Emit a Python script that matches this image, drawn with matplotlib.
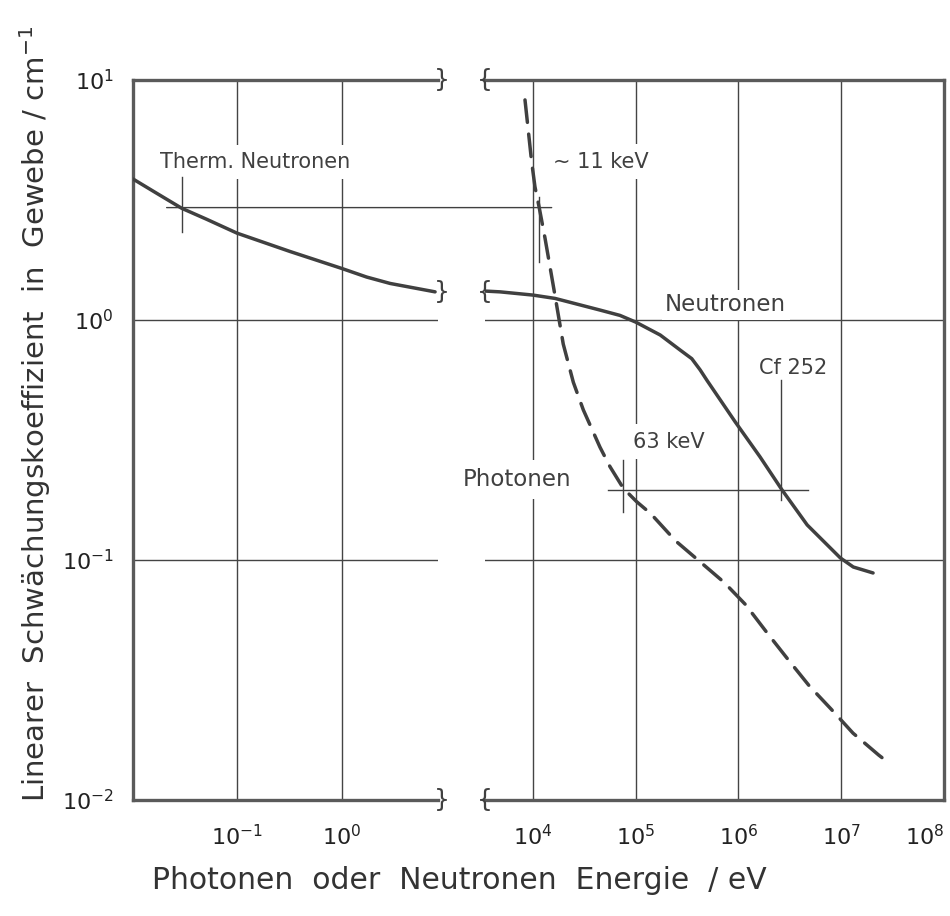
import matplotlib
matplotlib.use("Agg")
import matplotlib.pyplot as plt
from matplotlib.patches import ConnectionPatch
from matplotlib.ticker import NullLocator

# thermal neutrons, left part of the energy axis (eV, 1/cm)
e_therm = [0.0101, 0.0171, 0.0296, 0.051, 0.1, 0.32, 1.0, 1.73, 2.9, 7.8]
mu_therm = [3.87, 3.37, 2.92, 2.63, 2.30, 1.93, 1.64, 1.51, 1.42, 1.31]

# fast neutrons
e_fast = [3.41e3, 4.78e3, 1.0e4, 1.64e4, 4.49e4, 7.03e4, 1.0e5, 1.73e5, 2.70e5,
          3.51e5, 4.23e5, 4.94e5, 9.3e5, 1.62e6, 2.65e6, 4.66e6, 9.8e6, 1.31e7, 2.04e7]
mu_fast = [1.32, 1.31, 1.27, 1.23, 1.10, 1.045, 0.98, 0.866, 0.75,
           0.69, 0.62, 0.56, 0.376, 0.269, 0.196, 0.140, 0.102, 0.0935, 0.0883]

# photons
e_phot = [8.36e3, 9.7e3, 1.045e4, 1.15e4, 1.31e4, 1.64e4, 1.97e4, 2.47e4, 3.09e4,
          4.49e4, 5.61e4, 7.57e4, 1.02e5, 1.40e5, 2.45e5, 4.30e5, 7.24e5, 1.17e6,
          1.92e6, 3.14e6, 4.88e6, 7.98e6, 1.30e7, 2.31e7, 2.77e7]
mu_phot = [8.26, 4.57, 3.59, 2.94, 2.19, 1.26, 0.794, 0.550, 0.422,
           0.295, 0.245, 0.199, 0.175, 0.156, 0.120, 0.0977, 0.0807, 0.0652,
           0.0494, 0.0378, 0.0299, 0.0239, 0.0190, 0.0154, 0.0145]

# marks
e_thermal_mark, mu_thermal_mark = 0.0296, 2.94
e_11kev = 1.15e4
e_63kev, mu_63kev = 7.57e4, 0.195
e_cf252 = 2.58e6

xticks_left = [0.1, 1.0]
xticks_right = [1e4, 1e5, 1e6, 1e7, 1e8]
yticks = [0.01, 0.1, 1.0, 10.0]

ink = "#404040"
grid_col = "#444444"
fs_ann = 15

fig = plt.figure(figsize=(9.5, 9.16), dpi=100)
ax1 = fig.add_axes([133 / 950, 116 / 916, 305 / 950, 720 / 916])
ax2 = fig.add_axes([485 / 950, 116 / 916, 459 / 950, 720 / 916])

for ax in (ax1, ax2):
    ax.set_xscale("log")
    ax.set_yscale("log")
    ax.set_ylim(0.01, 10)
    ax.set_axisbelow(True)
    ax.xaxis.set_minor_locator(NullLocator())
    ax.yaxis.set_minor_locator(NullLocator())
    ax.grid(True, color=grid_col, lw=1.0)
    ax.tick_params(axis="x", length=0, labelsize=16, colors="#222222", pad=17)
    ax.tick_params(axis="y", length=0, labelsize=16, colors="#222222", pad=14)
    for s in ax.spines.values():
        s.set_color("#5a5a5a")
        s.set_linewidth(2.4)

ax1.set_xlim(10 ** -1.995, 10 ** 0.92)
ax2.set_xlim(10 ** 3.533, 1e8)
ax1.set_xticks(xticks_left)
ax2.set_xticks(xticks_right)
ax1.set_yticks(yticks)
ax2.set_yticks(yticks)
ax2.tick_params(labelleft=False)
ax1.spines["right"].set_visible(False)
ax2.spines["left"].set_visible(False)
fig.canvas.draw()
ax2.get_xticklabels()[-1].set_horizontalalignment("right")

# curves
ax1.plot(e_therm, mu_therm, color=ink, lw=2.5, zorder=4, solid_capstyle="round")
ax2.plot(e_fast, mu_fast, color=ink, lw=2.5, zorder=4, solid_capstyle="round",
         solid_joinstyle="round")
ax2.plot(e_phot, mu_phot, color=ink, lw=2.5, zorder=4,
         linestyle=(0, (6.5, 3.4)), dash_capstyle="round")

# break marks at top, at the curve ends and at bottom
for y in (10, mu_therm[-1], 0.01):
    ax1.text(1.012, y, "}", transform=ax1.get_yaxis_transform(),
             ha="center", va="center", fontsize=18, color=ink, zorder=5)
    ax2.text(0.0, y, "{", transform=ax2.get_yaxis_transform(),
             ha="center", va="center", fontsize=18, color=ink, zorder=5)

# thermal neutron mark
ax1.plot([e_thermal_mark, e_thermal_mark], [2.33, 3.95], color=ink, lw=1.0, zorder=4)
con = ConnectionPatch(xyA=(0.0212, mu_thermal_mark), coordsA=ax1.transData,
                      xyB=(1.52e4, mu_thermal_mark), coordsB=ax2.transData,
                      color=ink, lw=1.0, zorder=4)
fig.add_artist(con)

# 11 keV, 63 keV and Cf 252 marks
ax2.plot([e_11kev, e_11kev], [1.75, 3.27], color=ink, lw=1.0, zorder=4)
ax2.plot([e_63kev, e_63kev], [0.159, 0.261], color=ink, lw=1.0, zorder=4)
ax2.plot([5.4e4, 4.8e6], [mu_63kev, mu_63kev], color=ink, lw=1.0, zorder=4)
ax2.plot([e_cf252, e_cf252], [0.178, 0.562], color=ink, lw=1.0, zorder=4)

box = dict(facecolor="white", edgecolor="none", boxstyle="square,pad=0.35")
ax1.text(0.0183, 4.55, "Therm. Neutronen", fontsize=fs_ann, color=ink,
         ha="left", va="center", bbox=box, zorder=3)
ax2.text(1.58e4, 4.57, "~ 11 keV", fontsize=fs_ann, color=ink,
         ha="left", va="center", bbox=box, zorder=3)
ax2.text(1.93e5, 1.155, "Neutronen", fontsize=fs_ann + 1.5, color=ink,
         ha="left", va="center",
         bbox=dict(facecolor="white", edgecolor="none", boxstyle="square,pad=0.15"),
         zorder=3)
ax2.text(1.6e6, 0.629, "Cf 252", fontsize=fs_ann, color=ink,
         ha="left", va="center", bbox=box, zorder=3)
ax2.text(9.5e4, 0.311, "63 keV", fontsize=fs_ann, color=ink,
         ha="left", va="center", bbox=box, zorder=3)
ax2.text(2.37e4, 0.2155, "Photonen", fontsize=fs_ann + 1.5, color=ink,
         ha="right", va="center", bbox=box, zorder=3)

fig.text(0.037, 0.548, "Linearer  Schwächungskoeffizient  in  Gewebe / cm$^{-1}$",
         rotation=90, ha="center", va="center", fontsize=21, color="#333333")
fig.text(0.484, 0.039, "Photonen  oder  Neutronen  Energie  / eV",
         ha="center", va="center", fontsize=21.5, color="#333333")

fig.savefig("out.png", dpi=100, facecolor="white")
